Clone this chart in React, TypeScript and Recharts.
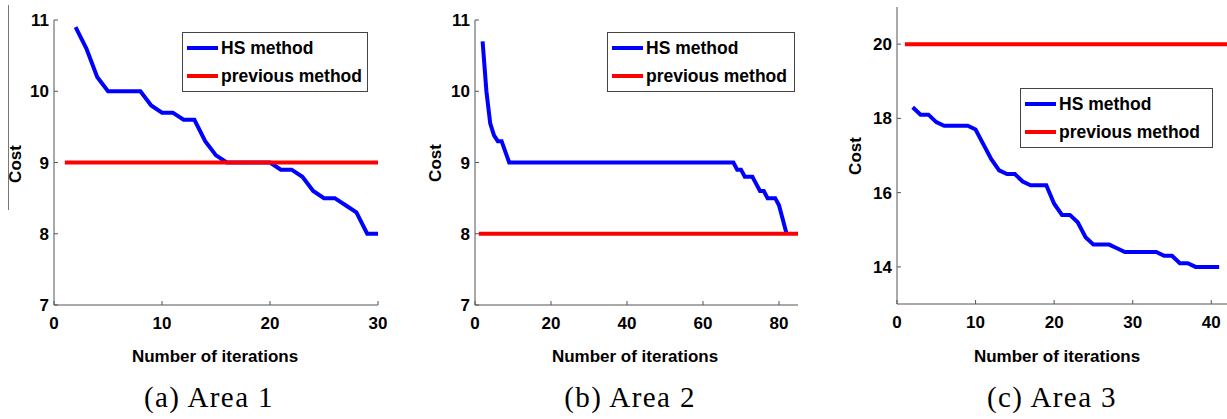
import * as React from "react";
import { Line, LineChart, XAxis, YAxis } from "recharts";

// Area 1: iterations 2..30
const area1Iterations = [2, 3, 4, 5, 6, 7, 8, 9, 10, 11, 12, 13, 14, 15, 16, 17, 18, 19, 20, 21, 22, 23, 24, 25, 26, 27, 28, 29, 30];
const area1Hs = [10.9, 10.6, 10.2, 10.0, 10.0, 10.0, 10.0, 9.8, 9.7, 9.7, 9.6, 9.6, 9.3, 9.1, 9.0, 9.0, 9.0, 9.0, 9.0, 8.9, 8.9, 8.8, 8.6, 8.5, 8.5, 8.4, 8.3, 8.0, 8.0];
const area1Previous = 9;
const area1PrevRange = [1, 30];
const area1XTicks = [0, 10, 20, 30];
const area1YTicks = [7, 8, 9, 10, 11];

// Area 2: iterations 2..82
const area2Hs = [
  10.7, 10.0, 9.55, 9.38, 9.3, 9.3, 9.15, 9.0,
  9.0, 9.0, 9.0, 9.0, 9.0, 9.0, 9.0, 9.0, 9.0, 9.0,
  9.0, 9.0, 9.0, 9.0, 9.0, 9.0, 9.0, 9.0, 9.0, 9.0,
  9.0, 9.0, 9.0, 9.0, 9.0, 9.0, 9.0, 9.0, 9.0, 9.0,
  9.0, 9.0, 9.0, 9.0, 9.0, 9.0, 9.0, 9.0, 9.0, 9.0,
  9.0, 9.0, 9.0, 9.0, 9.0, 9.0, 9.0, 9.0, 9.0, 9.0,
  9.0, 9.0, 9.0, 9.0, 9.0, 9.0, 9.0, 9.0, 9.0,
  8.9, 8.9, 8.8, 8.8, 8.8, 8.7, 8.6, 8.6, 8.5, 8.5, 8.5, 8.4, 8.2, 8.0,
];
const area2FirstIteration = 2;
const area2Previous = 8;
const area2PrevRange = [1, 85];
const area2XTicks = [0, 20, 40, 60, 80];
const area2YTicks = [7, 8, 9, 10, 11];

// Area 3: iterations 2..41
const area3Hs = [
  18.3, 18.1, 18.1, 17.9, 17.8, 17.8, 17.8, 17.8, 17.7, 17.3,
  16.9, 16.6, 16.5, 16.5, 16.3, 16.2, 16.2, 16.2, 15.7, 15.4,
  15.4, 15.2, 14.8, 14.6, 14.6, 14.6, 14.5, 14.4, 14.4, 14.4,
  14.4, 14.4, 14.3, 14.3, 14.1, 14.1, 14.0, 14.0, 14.0, 14.0,
];
const area3FirstIteration = 2;
const area3Previous = 20;
const area3PrevRange = [1, 42];
const area3XTicks = [0, 10, 20, 30, 40];
const area3YTicks = [14, 16, 18, 20];

type Row = { iter: number; hs: number | null; prev: number | null };

function buildRows(iters: number[], hs: number[], prev: number, range: number[]): Row[] {
  const map = new Map<number, Row>();
  iters.forEach((it, i) => map.set(it, { iter: it, hs: hs[i], prev: null }));
  for (let it = range[0]; it <= range[1]; it++) {
    const r = map.get(it) ?? { iter: it, hs: null, prev: null };
    r.prev = prev;
    map.set(it, r);
  }
  return Array.from(map.values()).sort((a, b) => a.iter - b.iter);
}

const seq = (start: number, n: number) => Array.from({ length: n }, (_, i) => start + i);

const FONT = '"Liberation Sans", Arial, Helvetica, sans-serif';
const AXIS = "#555";
const CHART_H = 340;
const XAXIS_H = 30;

interface PanelProps {
  left: number;
  width: number;
  yAxisWidth: number;
  top: number;
  bottom: number;
  right: number;
  data: Row[];
  xDomain: [number, number];
  yDomain: [number, number];
  xTicks: number[];
  yTicks: number[];
}

function LegendBox({ left, top, width }: { left: number; top: number; width: number }) {
  const row = (color: string, label: string) => (
    <div style={{ display: "flex", alignItems: "center", height: 28 }}>
      <div style={{ width: 31, height: 4, background: color, marginRight: 3 }} />
      <span>{label}</span>
    </div>
  );
  return (
    <div
      style={{
        position: "absolute",
        left,
        top,
        width,
        boxSizing: "border-box",
        border: "1px solid #444",
        background: "#fff",
        padding: "1px 0 1px 4px",
        fontFamily: FONT,
        fontWeight: 700,
        fontSize: 17.5,
        color: "#000",
        lineHeight: "28px",
      }}
    >
      {row("#0000ff", "HS method")}
      {row("#ff0000", "previous method")}
    </div>
  );
}

function Panel(p: PanelProps) {
  return (
    <div style={{ position: "absolute", left: p.left, top: 0 }}>
      <LineChart
        width={p.width}
        height={CHART_H}
        data={p.data}
        margin={{ top: p.top, right: p.right, left: 0, bottom: CHART_H - p.bottom - XAXIS_H }}
      >
        <XAxis
          dataKey="iter"
          type="number"
          domain={p.xDomain}
          ticks={p.xTicks}
          allowDataOverflow
          height={XAXIS_H}
          stroke={AXIS}
          tickSize={-4}
          tickMargin={16}
          tick={{ fill: "#000", fontFamily: FONT, fontWeight: 700, fontSize: 17 }}
        />
        <YAxis
          type="number"
          domain={p.yDomain}
          ticks={p.yTicks}
          allowDataOverflow
          width={p.yAxisWidth}
          stroke={AXIS}
          tickSize={-4}
          tickMargin={9}
          tick={{ fill: "#000", fontFamily: FONT, fontWeight: 700, fontSize: 17 }}
        />
        <Line dataKey="hs" name="HS method" stroke="#0000ff" strokeWidth={4} dot={false} isAnimationActive={false} />
        <Line dataKey="prev" name="previous method" stroke="#ff0000" strokeWidth={4} dot={false} isAnimationActive={false} />
      </LineChart>
    </div>
  );
}

const textStyle: React.CSSProperties = {
  position: "absolute",
  fontFamily: FONT,
  fontWeight: 700,
  fontSize: 17,
  color: "#000",
  whiteSpace: "nowrap",
  transform: "translate(-50%, -50%)",
};

const captionStyle: React.CSSProperties = {
  position: "absolute",
  fontFamily: '"Liberation Serif", "Times New Roman", serif',
  fontSize: 29,
  letterSpacing: 1.4,
  color: "#000",
  whiteSpace: "nowrap",
  transform: "translate(-50%, -50%)",
};

export default function App() {
  const area1Rows = buildRows(area1Iterations, area1Hs, area1Previous, area1PrevRange);
  const area2Rows = buildRows(seq(area2FirstIteration, area2Hs.length), area2Hs, area2Previous, area2PrevRange);
  const area3Rows = buildRows(seq(area3FirstIteration, area3Hs.length), area3Hs, area3Previous, area3PrevRange);

  return (
    <div style={{ position: "absolute", left: 0, top: 0, width: 1227, height: 419, background: "#fff", overflow: "hidden" }}>
      <div style={{ position: "absolute", left: 8, top: 5, width: 0, height: 205, borderLeft: "1.5px solid #777" }} />
      <Panel
        left={0}
        width={400}
        yAxisWidth={54}
        top={20}
        bottom={305}
        right={22}
        data={area1Rows}
        xDomain={[0, 30]}
        yDomain={[7, 11]}
        xTicks={area1XTicks}
        yTicks={area1YTicks}
      />
      <Panel
        left={410}
        width={400}
        yAxisWidth={65}
        top={20}
        bottom={305}
        right={12}
        data={area2Rows}
        xDomain={[0, 85]}
        yDomain={[7, 11]}
        xTicks={area2XTicks}
        yTicks={area2YTicks}
      />
      <Panel
        left={830}
        width={397}
        yAxisWidth={67}
        top={7}
        bottom={304}
        right={0}
        data={area3Rows}
        xDomain={[0, 42]}
        yDomain={[13, 21]}
        xTicks={area3XTicks}
        yTicks={area3YTicks}
      />

      <LegendBox left={182} top={32} width={186} />
      <LegendBox left={607} top={32} width={188} />
      <LegendBox left={1020} top={88} width={193} />

      <div style={{ ...textStyle, left: 15.5, top: 164, transform: "translate(-50%, -50%) rotate(-90deg)" }}>Cost</div>
      <div style={{ ...textStyle, left: 435.5, top: 163, transform: "translate(-50%, -50%) rotate(-90deg)" }}>Cost</div>
      <div style={{ ...textStyle, left: 856, top: 156, transform: "translate(-50%, -50%) rotate(-90deg)" }}>Cost</div>

      <div style={{ ...textStyle, left: 215, top: 357 }}>Number of iterations</div>
      <div style={{ ...textStyle, left: 635, top: 357 }}>Number of iterations</div>
      <div style={{ ...textStyle, left: 1057, top: 357 }}>Number of iterations</div>

      <div style={{ ...captionStyle, left: 209, top: 397 }}>(a) Area 1</div>
      <div style={{ ...captionStyle, left: 630, top: 397 }}>(b) Area 2</div>
      <div style={{ ...captionStyle, left: 1052, top: 397 }}>(c) Area 3</div>
    </div>
  );
}
